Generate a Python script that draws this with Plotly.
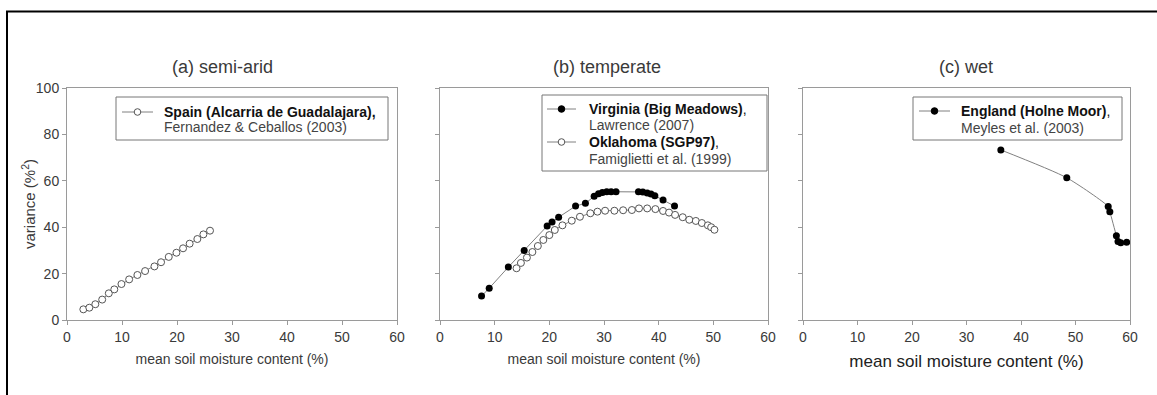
import plotly.graph_objects as go

# ---- data ----
spain_x = [2.97, 4.06, 5.15, 6.4, 7.6, 8.6, 9.9, 11.3, 12.8, 14.2, 15.9, 17.1, 18.5, 19.9, 21.1, 22.3, 23.7, 24.8, 26.0]
spain_y = [4.6, 5.3, 6.8, 8.8, 11.5, 13.2, 15.5, 17.5, 19.4, 21.1, 23.1, 24.9, 27.2, 29.0, 30.9, 32.9, 34.9, 36.9, 38.5]

virginia_x = [7.6, 9.0, 12.5, 15.4, 19.6, 20.5, 21.7, 24.8, 26.6, 28.2, 29.0, 29.7, 30.5, 31.3, 32.2,
              36.3, 37.1, 37.9, 38.6, 39.3, 40.8, 42.9]
virginia_y = [10.3, 13.7, 22.8, 30.0, 40.5, 42.2, 44.3, 49.1, 50.3, 53.3, 54.4, 55.0, 55.3, 55.3, 55.3,
              55.3, 55.2, 54.7, 54.3, 53.6, 51.7, 49.1]

oklahoma_x = [14.0, 14.8, 15.9, 16.9, 17.9, 18.9, 20.0, 21.0, 22.4, 24.1, 25.6, 27.5, 28.8, 30.2, 31.9,
              33.5, 35.1, 36.4, 37.9, 39.4, 40.8, 41.9, 43.0, 44.4, 45.6, 46.8, 47.9, 49.0, 49.6, 50.2]
oklahoma_y = [22.3, 24.6, 26.9, 29.3, 31.9, 34.5, 36.6, 38.8, 40.8, 42.8, 44.5, 46.0, 46.7, 47.1, 47.1,
              47.3, 47.4, 48.1, 48.1, 47.8, 47.0, 46.3, 45.3, 44.3, 43.2, 42.7, 41.8, 40.8, 40.0, 38.9]

england_x = [36.3, 48.4, 56.0, 56.3, 57.5, 57.8, 58.3, 59.4]
england_y = [73.3, 61.3, 48.9, 46.7, 36.3, 33.8, 33.3, 33.5]

x_ticks = [0, 10, 20, 30, 40, 50, 60]
y_ticks = [0, 20, 40, 60, 80, 100]

panel_titles = ["(a) semi-arid", "(b) temperate", "(c) wet"]
x_title = "mean soil moisture content (%)"
y_title = "variance (%<sup>2</sup>)"

legend_bold = ["Spain (Alcarria de Guadalajara),", "Virginia (Big Meadows)", "Oklahoma (SGP97)",
               "England (Holne Moor)"]
legend_bold_tail = ["", ",", ",", ","]
legend_ref = ["Fernandez & Ceballos (2003)", "Lawrence (2007)", "Famiglietti et al. (1999)",
              "Meyles et al. (2003)"]

FW, FH = 1157, 395
FONT = "Liberation Sans, Arial, sans-serif"
LINE = "#808080"
AX = "#9a9a9a"
TXT = "#3a3a3a"


def px(v):
    return v / FW


def py(v):
    return 1 - v / FH


fig = go.Figure()

open_marker = dict(symbol="circle", size=7, color="white", line=dict(width=1, color="#555555"))
filled_marker = dict(symbol="circle", size=7, color="#000000", line=dict(width=0))

fig.add_trace(go.Scatter(x=spain_x, y=spain_y, mode="lines+markers",
                         line=dict(color=LINE, width=1), marker=open_marker,
                         name=legend_bold[0], xaxis="x", yaxis="y"))
fig.add_trace(go.Scatter(x=virginia_x, y=virginia_y, mode="lines+markers",
                         line=dict(color=LINE, width=1), marker=filled_marker,
                         name=legend_bold[1], xaxis="x2", yaxis="y2"))
fig.add_trace(go.Scatter(x=oklahoma_x, y=oklahoma_y, mode="lines+markers",
                         line=dict(color=LINE, width=1), marker=open_marker,
                         name=legend_bold[2], xaxis="x2", yaxis="y2"))
fig.add_trace(go.Scatter(x=england_x, y=england_y, mode="lines+markers",
                         line=dict(color=LINE, width=1, shape="spline", smoothing=0.6), marker=filled_marker,
                         name=legend_bold[3], xaxis="x3", yaxis="y3"))

domains = [[px(67), px(397)], [px(440), px(768)], [px(803), px(1130)]]
ydom = [py(320), py(88)]

common = dict(showline=True, linecolor=AX, linewidth=1, mirror=True, showgrid=False, zeroline=False,
              ticks="outside", ticklen=4, tickcolor=AX, tickfont=dict(family=FONT, size=14, color=TXT))

layout = dict(width=FW, height=FH, margin=dict(l=0, r=0, t=0, b=0, autoexpand=False),
              paper_bgcolor="white", plot_bgcolor="white", showlegend=False,
              font=dict(family=FONT, color=TXT))

for i, suf in enumerate(["", "2", "3"]):
    layout["xaxis" + suf] = dict(domain=domains[i], range=[0, 60], tickvals=x_ticks,
                                 anchor="y" + suf, fixedrange=True, **common)
    layout["yaxis" + suf] = dict(domain=ydom, range=[0, 100], tickvals=y_ticks,
                                 anchor="x" + suf, showticklabels=(i == 0), fixedrange=True, **common)
layout["xaxis"]["title"] = dict(text=x_title, font=dict(family=FONT, size=14, color=TXT), standoff=10)
layout["xaxis2"]["title"] = dict(text=x_title, font=dict(family=FONT, size=14, color=TXT), standoff=10)
layout["xaxis3"]["title"] = dict(text=x_title, font=dict(family=FONT, size=17, color="#222222"), standoff=11)

ann = []
centers = [222, 607, 966]
for t, c in zip(panel_titles, centers):
    ann.append(dict(text=t, x=px(c), y=py(67), xref="paper", yref="paper", showarrow=False,
                    xanchor="center", yanchor="middle", font=dict(family=FONT, size=18, color=TXT)))
ann.append(dict(text=y_title, x=px(28), y=py(204), xref="paper", yref="paper", showarrow=False,
                textangle=-90, xanchor="center", yanchor="middle",
                font=dict(family=FONT, size=15, color=TXT)))

shapes = [
    dict(type="line", xref="paper", yref="paper", x0=px(6), x1=1, y0=py(11.5), y1=py(11.5),
         line=dict(color="black", width=2)),
    dict(type="line", xref="paper", yref="paper", x0=px(7), x1=px(7), y0=py(11.5), y1=0,
         line=dict(color="black", width=2)),
]

# hand-built legend boxes (layout positions in reference pixels)
boxes = [(116, 97, 388, 140), (542, 95, 767, 171), (913, 97, 1122, 140)]
for (x0, y0, x1, y1) in boxes:
    shapes.append(dict(type="rect", xref="paper", yref="paper", x0=px(x0), x1=px(x1), y0=py(y1), y1=py(y0),
                       line=dict(color="#777777", width=1), fillcolor="white", layer="above"))

# entries: (sample x0, sample x1, text x, line1 y, line2 y, filled)
entries = [(122, 153, 162, 112, 127, False),
           (547, 576, 587, 109, 125, True),
           (547, 576, 587, 142, 159, False),
           (919, 950, 959, 111, 128, True)]
for k, (sx0, sx1, tx, l1, l2, filled) in enumerate(entries):
    shapes.append(dict(type="line", xref="paper", yref="paper", x0=px(sx0), x1=px(sx1), y0=py(l1), y1=py(l1),
                       line=dict(color=LINE, width=1), layer="above"))
    cx = (sx0 + sx1) / 2
    r = 3.3
    shapes.append(dict(type="circle", xref="paper", yref="paper", x0=px(cx - r), x1=px(cx + r),
                       y0=py(l1 + r), y1=py(l1 - r), layer="above",
                       fillcolor="black" if filled else "white",
                       line=dict(color="black" if filled else "#555555", width=1)))
    ann.append(dict(text="<b>" + legend_bold[k] + "</b>" + legend_bold_tail[k], x=px(tx), y=py(l1),
                    xref="paper", yref="paper", showarrow=False, xanchor="left", yanchor="middle",
                    font=dict(family=FONT, size=14, color="#111111")))
    ann.append(dict(text=legend_ref[k], x=px(tx), y=py(l2),
                    xref="paper", yref="paper", showarrow=False, xanchor="left", yanchor="middle",
                    font=dict(family=FONT, size=14, color="#444444")))

layout["annotations"] = ann
layout["shapes"] = shapes

fig.update_layout(**layout)
fig.write_html("out.html")
